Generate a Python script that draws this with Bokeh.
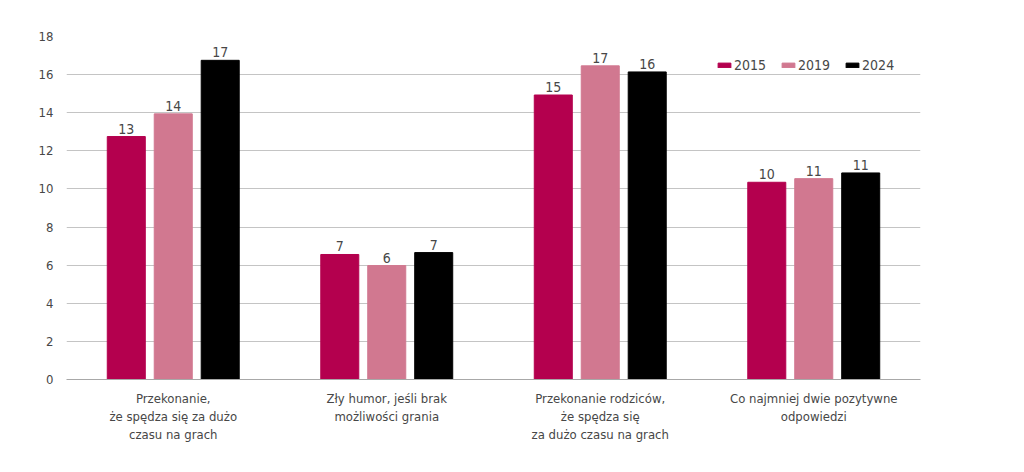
from bokeh.plotting import figure
from bokeh.models import ColumnDataSource, Range1d, FixedTicker, Legend, LegendItem
from bokeh.transform import dodge
from bokeh.core.properties import value
from bokeh.embed import file_html
from bokeh.resources import INLINE

categories = [
    "Przekonanie,\nże spędza się za dużo\nczasu na grach",
    "Zły humor, jeśli brak\nmożliwości grania",
    "Przekonanie rodziców,\nże spędza się\nza dużo czasu na grach",
    "Co najmniej dwie pozytywne\nodpowiedzi",
]
years = ["2015", "2019", "2024"]
v2015 = [12.75, 6.56, 14.93, 10.35]
v2019 = [13.94, 5.98, 16.46, 10.54]
v2024 = [16.75, 6.66, 16.14, 10.84]
l2015 = ["13", "7", "15", "10"]
l2019 = ["14", "6", "17", "11"]
l2024 = ["17", "7", "16", "11"]
y_ticks = [0, 2, 4, 6, 8, 10, 12, 14, 16, 18]

FONT = "DejaVu Sans Condensed"
TEXT = "#474747"
colors = ["#b4004e", "#d17890", "#000000"]
offsets = [-0.22, 0.0, 0.22]

xs = [i + 0.5 for i in range(len(categories))]
src = ColumnDataSource(dict(x=xs, v2015=v2015, v2019=v2019, v2024=v2024,
                            l2015=l2015, l2019=l2019, l2024=l2024))

p = figure(width=1008, height=456, output_backend="svg", toolbar_location=None,
           x_range=Range1d(0, 4), y_range=Range1d(0, 18),
           min_border_left=66, min_border_right=88, min_border_top=36, min_border_bottom=77)
p.outline_line_color = None
p.background_fill_color = "white"

items = []
for yr, col, off in zip(years, colors, offsets):
    r = p.vbar(x=dodge("x", off, range=p.x_range), top="v" + yr, width=0.178, bottom=0,
               source=src, fill_color=col, line_color=col)
    items.append(LegendItem(label=yr, renderers=[r]))
    p.text(x=dodge("x", off, range=p.x_range), y="v" + yr, text="l" + yr, source=src,
           text_align="center", text_baseline="bottom", y_offset=-3,
           text_font=value(FONT), text_font_size="14px", text_color=TEXT)

p.xgrid.visible = False
p.ygrid.ticker = FixedTicker(ticks=y_ticks)
p.ygrid.grid_line_color = "#c4c4c4"
p.ygrid.grid_line_width = 1

p.yaxis.ticker = FixedTicker(ticks=y_ticks)
p.yaxis.axis_line_color = None
p.yaxis.major_tick_line_color = None
p.yaxis.minor_tick_line_color = None
p.yaxis.major_label_text_font = FONT
p.yaxis.major_label_text_font_size = "13px"
p.yaxis.major_label_text_color = TEXT
p.yaxis.major_label_standoff = 7

p.xaxis.ticker = FixedTicker(ticks=xs)
p.xaxis.major_label_overrides = {x: c for x, c in zip(xs, categories)}
p.xaxis.axis_line_color = "#a8a8a8"
p.xaxis.major_tick_line_color = None
p.xaxis.minor_tick_line_color = None
p.xaxis.major_label_text_font = FONT
p.xaxis.major_label_text_font_size = "13px"
p.xaxis.major_label_text_color = TEXT
p.xaxis.major_label_standoff = 5

legend = Legend(items=items, orientation="horizontal", location=(650, 306),
                glyph_width=16, glyph_height=6, label_height=16, label_standoff=2,
                spacing=14, padding=0, margin=0, border_line_color=None,
                background_fill_alpha=0, label_text_font=FONT,
                label_text_font_size="14px", label_text_color=TEXT)
p.add_layout(legend)

open("out.html", "w").write(file_html(p, INLINE))
